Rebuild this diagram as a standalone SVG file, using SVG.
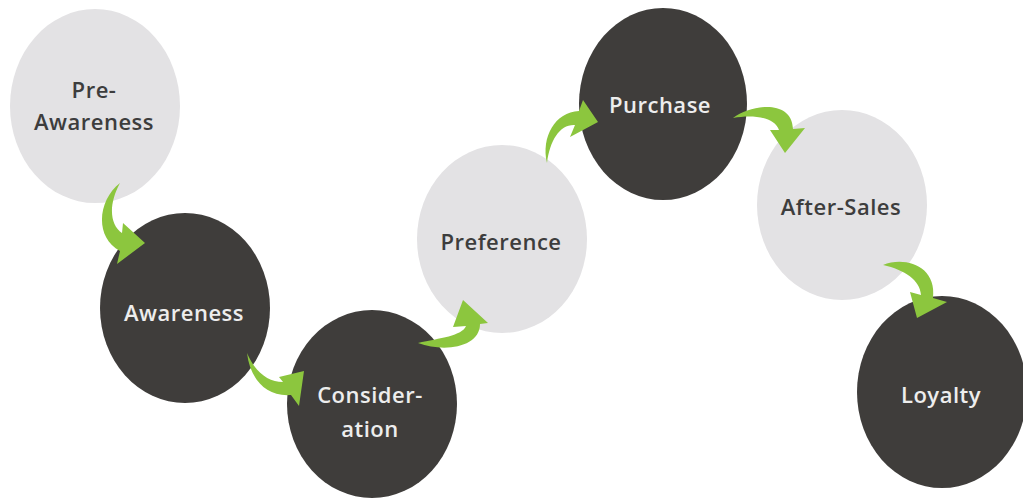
<svg xmlns="http://www.w3.org/2000/svg" width="1023" height="500" viewBox="0 0 1023 500">
  <style>
    .light { fill: #e3e2e4; }
    .dark { fill: #3f3d3b; }
    .label { font-family: "Open Sans", "DejaVu Sans", sans-serif; font-size: 22px; font-weight: 600; text-anchor: middle; letter-spacing: 0.5px; }
    .label-dark { fill: #3d3d3d; }
    .label-light { fill: #ededed; }
    .flow { fill: #8cc63e; }
  </style>
  <rect width="1023" height="500" fill="#ffffff"/>

  <g id="pre-awareness">
    <ellipse class="light" cx="95" cy="106" rx="85" ry="97"/>
    <text class="label label-dark" x="94" y="98">Pre-</text>
    <text class="label label-dark" x="94" y="130">Awareness</text>
  </g>
  <g id="awareness">
    <ellipse class="dark" cx="185" cy="308" rx="85" ry="95"/>
    <text class="label label-light" x="184" y="321">Awareness</text>
  </g>
  <g id="consideration">
    <ellipse class="dark" cx="372" cy="404" rx="85" ry="94"/>
    <text class="label label-light" x="370" y="403">Consider-</text>
    <text class="label label-light" x="370" y="437">ation</text>
  </g>
  <g id="preference">
    <ellipse class="light" cx="502" cy="239" rx="85" ry="94"/>
    <text class="label label-dark" x="501" y="250">Preference</text>
  </g>
  <g id="purchase">
    <ellipse class="dark" cx="663" cy="104" rx="84" ry="96"/>
    <text class="label label-light" x="660" y="113">Purchase</text>
  </g>
  <g id="after-sales">
    <ellipse class="light" cx="842" cy="205" rx="85" ry="95"/>
    <text class="label label-dark" x="841" y="215">After-Sales</text>
  </g>
  <g id="loyalty">
    <ellipse class="dark" cx="942" cy="392" rx="85" ry="96"/>
    <text class="label label-light" x="941" y="403">Loyalty</text>
  </g>

  <!-- curved green connectors, tapered tail to arrowhead -->
  <g id="connectors">
    <path class="flow" d="M 120,183 C 98,200 94,237 120,251 L 117,264 L 145,243 L 123,223 L 122,233 C 110,225 108,205 120,183 Z"/>
    <path class="flow" d="M 247,353 C 250,378 265,397 291,395 L 299,406 L 304,371 L 279,377 L 283,382 C 268,382 255,372 247,353 Z"/>
    <path class="flow" d="M 418,343 C 445,353 480,347 480,324 L 488,323 L 463,300 L 453,327 L 466,326 C 462,336 440,338 418,343 Z"/>
    <path class="flow" d="M 547,163 C 541,137 555,112 579,111 L 583,100 L 598,122 L 570,137 L 575,125 C 560,124 550,140 547,163 Z"/>
    <path class="flow" d="M 733,118 C 752,104 792,99 793,129 L 805,128 L 785,153 L 770,130 L 779,130 C 775,118 755,114 733,118 Z"/>
    <path class="flow" d="M 883,265 C 905,256 937,266 933,298 L 947,302 L 917,318 L 910,292 L 921,295 C 920,280 905,270 883,265 Z"/>
  </g>
</svg>
